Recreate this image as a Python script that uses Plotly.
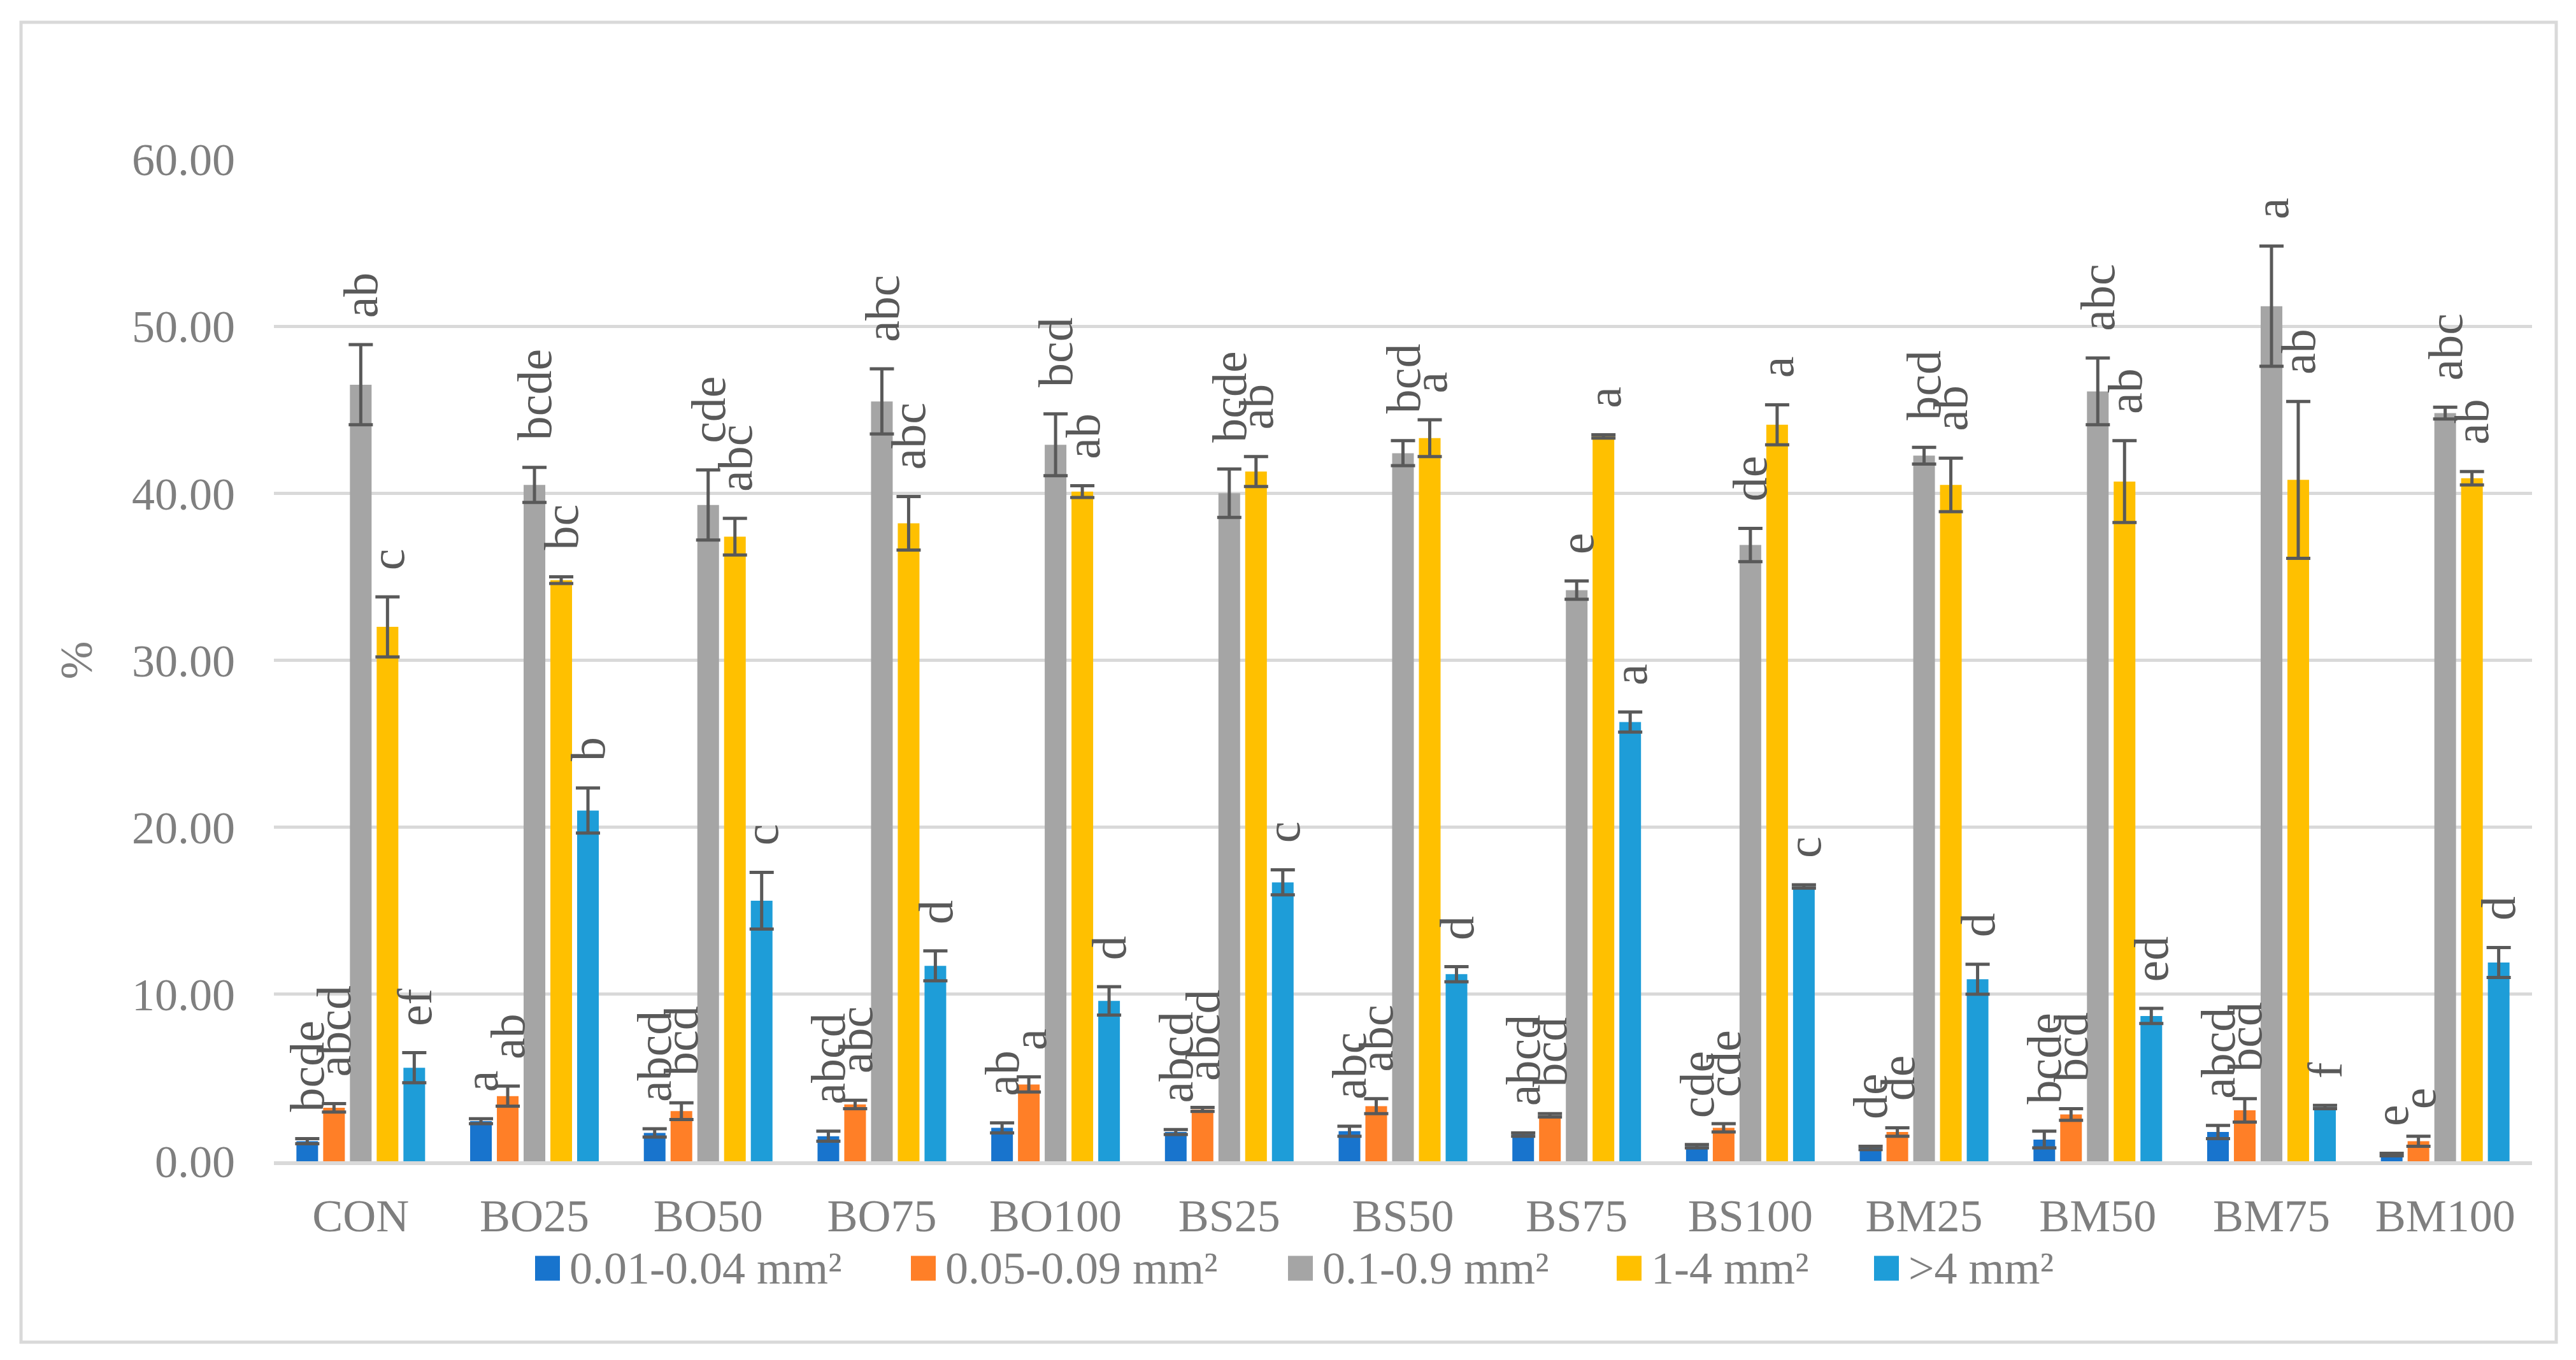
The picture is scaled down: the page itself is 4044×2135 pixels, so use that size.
import plotly.graph_objects as go

# ---------------- data ----------------
categories = ["CON", "BO25", "BO50", "BO75", "BO100", "BS25", "BS50",
              "BS75", "BS100", "BM25", "BM50", "BM75", "BM100"]

series_names = ["0.01-0.04 mm²", "0.05-0.09 mm²", "0.1-0.9 mm²", "1-4 mm²", ">4 mm²"]

s_001_004 = [1.2, 2.4, 1.7, 1.5, 2.0, 1.75, 1.8, 1.6, 0.9, 0.8, 1.3, 1.75, 0.4]
e_001_004 = [0.15, 0.15, 0.25, 0.3, 0.3, 0.15, 0.3, 0.1, 0.1, 0.1, 0.5, 0.4, 0.08]

s_005_009 = [3.2, 3.9, 3.0, 3.4, 4.6, 3.1, 3.3, 2.75, 2.0, 1.75, 2.8, 3.05, 1.2]
e_005_009 = [0.25, 0.6, 0.5, 0.25, 0.45, 0.12, 0.45, 0.1, 0.25, 0.25, 0.35, 0.7, 0.3]

s_01_09 = [46.5, 40.5, 39.3, 45.5, 42.9, 40.0, 42.4, 34.2, 36.9, 42.25, 46.1, 51.2, 44.8]
e_01_09 = [2.4, 1.05, 2.1, 1.95, 1.85, 1.45, 0.75, 0.55, 1.0, 0.5, 2.0, 3.6, 0.35]

s_1_4 = [32.0, 34.8, 37.4, 38.2, 40.1, 41.3, 43.3, 43.4, 44.1, 40.5, 40.7, 40.8, 40.9]
e_1_4 = [1.8, 0.2, 1.1, 1.6, 0.35, 0.9, 1.1, 0.1, 1.2, 1.6, 2.45, 4.7, 0.4]

s_gt4 = [5.6, 21.0, 15.6, 11.7, 9.6, 16.7, 11.2, 26.3, 16.45, 10.9, 8.7, 3.25, 11.9]
e_gt4 = [0.9, 1.35, 1.7, 0.9, 0.85, 0.75, 0.45, 0.6, 0.1, 0.9, 0.45, 0.1, 0.9]

l_001_004 = ["bcde", "a", "abcd", "abcd", "ab", "abcd", "abc", "abcd", "cde", "de", "bcde", "abcd", "e"]
l_005_009 = ["abcd", "ab", "bcd", "abc", "a", "abcd", "abc", "bcd", "cde", "de", "bcd", "bcd", "e"]
l_01_09 = ["ab", "bcde", "cde", "abc", "bcd", "bcde", "bcd", "e", "de", "bcd", "abc", "a", "abc"]
l_1_4 = ["c", "bc", "abc", "abc", "ab", "ab", "a", "a", "a", "ab", "ab", "ab", "ab"]
l_gt4 = ["ef", "b", "c", "d", "d", "c", "d", "a", "c", "d", "ed", "f", "d"]

y_ticks = [0, 10, 20, 30, 40, 50, 60]
y_title = "%"

# ---------------- style ----------------
colors = ["#1874CD", "#FF7F27", "#A5A5A5", "#FFC000", "#1E9DD8"]
FONT = "Liberation Serif"
FS = 72
FS_LAB = 76
W, H = 4044, 2135
L, R, T, B = 430, 69, 250, 312
PW, PH = W - L - R, H - T - B


def px_x(p):
    return (p - L) / PW


def px_y(p):
    return (H - B - p) / PH


values = [s_001_004, s_005_009, s_01_09, s_1_4, s_gt4]
errors = [e_001_004, e_005_009, e_01_09, e_1_4, e_gt4]
letters = [l_001_004, l_005_009, l_01_09, l_1_4, l_gt4]

fig = go.Figure()
for name, v, e, c in zip(series_names, values, errors, colors):
    fig.add_trace(go.Bar(
        x=categories, y=v, name=name, marker=dict(color=c, line=dict(width=0)),
        error_y=dict(type="data", array=e, visible=True, color="#595959",
                     thickness=5, width=19),
        showlegend=False,
    ))

bargap, bargroupgap = 0.23, 0.19
slot_px = PW / len(categories) * (1 - bargap) / len(values)

annotations = []
for i, (v, e, lab) in enumerate(zip(values, errors, letters)):
    shift = (i - (len(values) - 1) / 2) * slot_px
    for cat, vv, ee, tt in zip(categories, v, e, lab):
        annotations.append(dict(
            x=cat, y=vv + ee, xref="x", yref="y", text=tt, showarrow=False,
            textangle=-90, xanchor="center", yanchor="bottom",
            xshift=shift, yshift=40,
            font=dict(family=FONT, size=FS_LAB, color="#595959"),
        ))

# manual legend (large square swatches)
legend_sq_x = [840, 1430, 2022, 2538, 2942]
sq = 39
leg_cy = 1991
shapes = []
for xs, c, name in zip(legend_sq_x, colors, series_names):
    shapes.append(dict(type="rect", xref="paper", yref="paper",
                       x0=px_x(xs), x1=px_x(xs + sq),
                       y0=px_y(leg_cy + sq / 2), y1=px_y(leg_cy - sq / 2),
                       fillcolor=c, line=dict(width=0)))
    annotations.append(dict(x=px_x(xs + sq + 14), y=px_y(leg_cy), xref="paper", yref="paper",
                            text=name, showarrow=False, xanchor="left", yanchor="middle",
                            borderpad=0,
                            font=dict(family=FONT, size=FS, color="#7F7F7F")))

# outer chart border
shapes.append(dict(type="rect", xref="paper", yref="paper",
                   x0=px_x(33), x1=px_x(4013), y0=px_y(2107), y1=px_y(35),
                   line=dict(color="#D9D9D9", width=5), fillcolor="rgba(0,0,0,0)",
                   layer="below"))

fig.update_layout(
    width=W, height=H, autosize=False,
    margin=dict(l=L, r=R, t=T, b=B, pad=0),
    paper_bgcolor="white", plot_bgcolor="white",
    barmode="group", bargap=bargap, bargroupgap=bargroupgap,
    font=dict(family=FONT, size=FS, color="#7F7F7F"),
    annotations=annotations, shapes=shapes,
    showlegend=False,
)
fig.update_xaxes(
    type="category", showline=True, linecolor="#D9D9D9", linewidth=6,
    ticks="", showgrid=False, zeroline=False,
    tickfont=dict(family=FONT, size=FS, color="#7F7F7F"),
    ticklabelstandoff=18,
)
fig.update_yaxes(
    range=[0, 60], tickvals=y_ticks, tickformat=".2f",
    showgrid=True, gridcolor="#D9D9D9", gridwidth=5, zeroline=False,
    showline=False, ticks="",
    tickfont=dict(family=FONT, size=FS, color="#7F7F7F"),
    ticklabelstandoff=60,
    title=dict(text=y_title, font=dict(family=FONT, size=FS, color="#7F7F7F"), standoff=38),
)

fig.write_html("out.html", config={"displayModeBar": False},
               post_script="document.body.style.margin='0';document.body.style.overflow='hidden';")
